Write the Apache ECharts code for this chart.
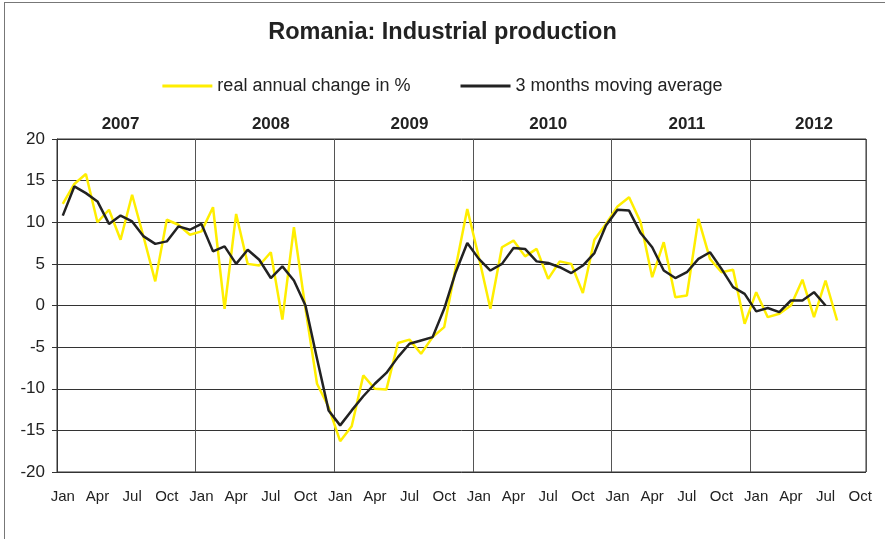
<!DOCTYPE html>
<html>
<head>
<meta charset="utf-8">
<script src="https://cdn.jsdelivr.net/npm/echarts@6/dist/echarts.min.js"></script>
<style>
  html, body { margin: 0; padding: 0; background: #fff; }
  .wrap { position: relative; width: 885px; height: 539px; }
  .frame {
    position: absolute; left: 4px; top: 2px; right: 0; bottom: 0;
    border-left: 1px solid #777; border-top: 1px solid #777;
    pointer-events: none;
  }
  #chart { width: 885px; height: 539px; }
</style>
</head>
<body>
<div class="wrap">
  <div id="chart"></div>
  <div class="frame"></div>
</div>
<script>
// months Jan 2007 .. Oct 2012
const monthNames = ['Jan', 'Feb', 'Mar', 'Apr', 'May', 'Jun', 'Jul', 'Aug', 'Sep', 'Oct', 'Nov', 'Dec']
const years = ['2007', '2008', '2009', '2010', '2011', '2012']
const yearLabelPos = [5, 18, 30, 42, 54, 65] // category index where the year label sits

// real annual change in %  (Jan 2007 .. Aug 2012)
const annualChange = [
  12.2, 14.6, 15.8, 10.0, 11.5, 7.9, 13.3, 8.2, 2.9, 10.3, 9.7, 8.5,
  8.9, 11.8, -0.4, 11.0, 5.0, 4.8, 6.4, -1.7, 9.4, -0.4, -9.4, -12.2,
  -16.3, -14.5, -8.4, -10.0, -10.1, -4.5, -4.1, -5.8, -3.8, -2.6, 4.6, 11.6,
  5.8, -0.4, 7.0, 7.8, 5.9, 6.8, 3.2, 5.3, 5.0, 1.5, 7.9, 9.8,
  11.9, 13.0, 10.0, 3.4, 7.6, 1.0, 1.2, 10.4, 5.6, 4.0, 4.3, -2.2,
  1.6, -1.4, -1.0, 0.0, 3.1, -1.4, 3.0, -1.8
]

// 3 months moving average  (Jan 2007 .. Jul 2012)
const movingAvg = [
  10.8, 14.3, 13.5, 12.5, 9.8, 10.8, 10.1, 8.3, 7.4, 7.7, 9.5, 9.1,
  9.8, 6.5, 7.1, 5.0, 6.7, 5.5, 3.3, 4.7, 3.0, 0.0, -6.4, -12.6,
  -14.4, -12.6, -10.9, -9.4, -8.1, -6.2, -4.6, -4.2, -3.8, -0.4, 4.0, 7.5,
  5.6, 4.2, 5.0, 6.9, 6.8, 5.3, 5.1, 4.6, 3.9, 4.8, 6.3, 9.6,
  11.5, 11.4, 8.7, 7.0, 4.2, 3.3, 4.0, 5.6, 6.4, 4.4, 2.2, 1.4,
  -0.7, -0.3, -0.8, 0.6, 0.6, 1.6, 0.0
]

const months = []
for (let i = 0; i < 70; i++) months.push(monthNames[i % 12])

const yearCats = months.map(() => '')
yearLabelPos.forEach((p, i) => { yearCats[p] = years[i] })

const font = "'Liberation Sans', Arial, sans-serif"
const chart = echarts.init(document.getElementById('chart'))

chart.setOption({
  animation: false,
  textStyle: { fontFamily: font, color: '#222' },
  title: {
    text: 'Romania: Industrial production',
    left: 'center',
    top: 16,
    textStyle: { fontFamily: font, fontSize: 23.5, fontWeight: 'bold', color: '#222' }
  },
  legend: {
    top: 72,
    left: 'center',
    icon: 'rect',
    itemWidth: 50,
    itemHeight: 3,
    itemGap: 50,
    textStyle: { fontFamily: font, fontSize: 18, color: '#222' },
    data: ['real annual change in %', '3 months moving average']
  },
  grid: {
    left: 57,
    right: 19,
    top: 139,
    bottom: 67,
    show: true,
    borderColor: '#333',
    borderWidth: 1
  },
  xAxis: [
    {
      type: 'category',
      data: months,
      boundaryGap: true,
      axisLine: { lineStyle: { color: '#333' } },
      axisTick: { show: false },
      axisLabel: { interval: 2, margin: 17, fontSize: 15, color: '#222', fontFamily: font },
      splitLine: {
        show: true,
        interval: (i) => i > 0 && i % 12 === 0,
        lineStyle: { color: '#555', width: 1 }
      }
    },
    {
      type: 'category',
      data: yearCats,
      position: 'top',
      boundaryGap: true,
      axisLine: { show: false },
      axisTick: { show: false },
      axisLabel: { interval: 0, margin: 6, fontSize: 17, fontWeight: 'bold', color: '#222', fontFamily: font },
      splitLine: { show: false }
    }
  ],
  yAxis: {
    type: 'value',
    min: -20,
    max: 20,
    interval: 5,
    axisLine: { show: true, lineStyle: { color: '#333' } },
    axisTick: { show: true, length: 5, lineStyle: { color: '#333' } },
    axisLabel: { margin: 12, fontSize: 17, color: '#222', fontFamily: font },
    splitLine: { lineStyle: { color: '#333', width: 1 } }
  },
  series: [
    {
      name: 'real annual change in %',
      type: 'line',
      data: annualChange,
      symbol: 'none',
      lineStyle: { color: '#FFEE00', width: 2.5 },
      itemStyle: { color: '#FFEE00' }
    },
    {
      name: '3 months moving average',
      type: 'line',
      data: movingAvg,
      symbol: 'none',
      lineStyle: { color: '#222', width: 2.5 },
      itemStyle: { color: '#222' }
    }
  ]
})
</script>
</body>
</html>
